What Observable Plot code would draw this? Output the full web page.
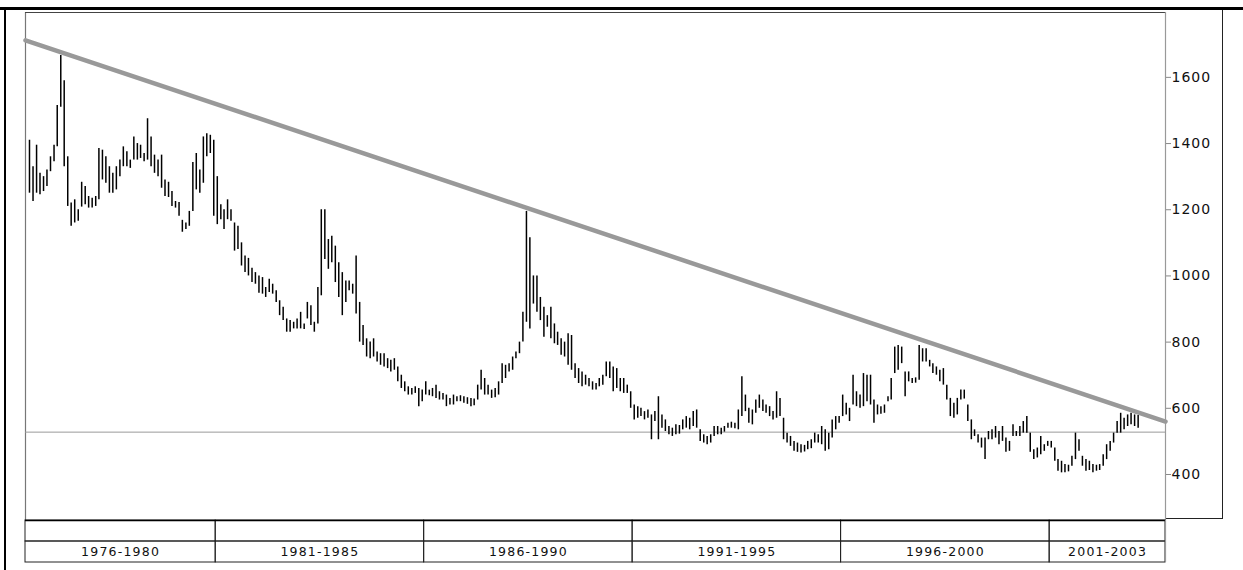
<!DOCTYPE html>
<html><head><meta charset="utf-8">
<script src="https://cdn.jsdelivr.net/npm/d3@7"></script>
<script src="https://cdn.jsdelivr.net/npm/@observablehq/plot@0.6"></script>
<style>
body{margin:0;background:#fff;font-family:"Liberation Sans",Arial,sans-serif;}
#wrap{position:relative;width:1243px;height:570px;overflow:hidden;background:#fff;}
#main{position:absolute;left:0;top:0;}
#foot{position:absolute;left:0;top:519px;}
.topline{position:absolute;left:0;top:7px;width:1243px;height:3px;background:#000;}
.leftline{position:absolute;left:4px;top:7px;width:2px;height:563px;background:#000;}
.rightbox{position:absolute;left:1165px;top:10px;width:57px;height:508px;border-right:1px solid #222;border-bottom:1px solid #222;}
svg [aria-label="y-axis tick"]{stroke:#888;}
svg [aria-label="y-axis tick label"] text{letter-spacing:1px;}
svg .foot-label text, svg [aria-label="text"] text{letter-spacing:1.2px;}
</style></head><body>
<div id="wrap">
<div class="topline"></div><div class="leftline"></div><div class="rightbox"></div>
<div id="main"></div><div id="foot"></div>
</div>
<script>
// ---- data (monthly bars, first bar = July 1976) ----
const firstYear = 1976, firstMonth = 6; // 0-based month index (July)
const highs = [
1410,1330,1395,1310,1300,1320,
1360,1395,1515,1666,1590,1360,1220,1230,1200,1283,1270,1240,
1235,1240,1385,1380,1360,1330,1310,1330,1350,1390,1375,1350,
1420,1400,1395,1370,1475,1420,1365,1350,1365,1290,1283,1255,
1225,1222,1168,1160,1195,1343,1370,1320,1420,1430,1425,1410,
1300,1215,1200,1230,1200,1160,1150,1100,1060,1053,1023,1010,
1000,995,965,990,975,955,925,905,870,865,860,870,
890,855,920,910,860,965,1200,1200,1110,1120,1090,1040,
1010,985,985,975,1060,920,850,810,800,810,770,765,
765,750,745,750,725,700,680,665,660,665,660,655,
680,655,660,670,650,645,640,630,640,635,638,635,
632,630,628,670,715,690,670,655,660,680,735,730,
735,755,770,800,890,1195,1115,1000,1000,935,905,880,
905,855,830,810,800,825,820,735,720,710,700,690,
680,675,690,700,740,740,725,720,690,690,670,650,
610,605,600,590,595,580,590,635,580,565,545,540,
550,548,565,575,570,590,595,535,520,515,520,545,
545,540,545,555,558,555,595,695,640,600,595,625,
640,625,610,605,590,650,630,570,525,515,500,495,
490,488,500,505,525,520,545,535,525,565,575,575,
640,615,600,700,650,640,705,700,700,625,610,605,
610,635,690,785,790,785,710,710,690,692,790,780,
780,745,735,725,715,720,670,630,615,630,655,655,
610,565,535,520,510,510,530,535,545,530,545,510,
500,550,530,545,560,575,525,475,480,515,490,500,
500,480,445,440,430,428,455,525,505,455,445,440,
430,428,430,460,490,500,525,560,585,570,580,585,
580,578];
const lows = [
1250,1225,1250,1245,1255,1270,
1315,1345,1390,1510,1330,1210,1150,1160,1165,1208,1215,1205,
1205,1210,1230,1290,1280,1250,1250,1260,1300,1330,1330,1325,
1350,1350,1355,1345,1350,1330,1310,1300,1265,1240,1237,1210,
1205,1180,1132,1140,1150,1195,1260,1250,1280,1360,1370,1180,
1155,1170,1140,1170,1165,1075,1080,1030,1010,1000,980,975,
948,945,935,950,945,920,880,865,830,830,840,840,
840,838,870,850,830,855,940,1050,1020,1040,980,935,
880,920,955,945,885,800,790,755,750,755,740,730,
725,720,710,715,680,660,650,640,640,645,605,620,
640,638,635,630,625,625,605,610,610,620,620,615,
612,605,608,625,655,640,640,630,632,640,675,690,
710,715,750,765,800,860,840,915,890,865,815,845,
810,795,790,760,755,730,715,690,675,665,670,665,
655,655,665,670,695,690,650,660,650,645,645,600,
565,570,575,565,570,505,560,505,540,530,520,515,
520,522,535,540,535,545,540,500,495,490,495,515,
520,520,528,540,540,538,535,575,590,555,550,585,
600,590,585,575,565,570,575,505,495,485,470,467,
465,468,475,478,495,495,490,470,475,510,535,555,
575,580,560,610,605,600,605,620,610,555,580,582,
585,620,625,705,715,735,635,680,675,676,685,740,
740,725,705,700,680,670,625,575,570,580,625,628,
560,505,515,495,480,445,505,505,510,490,500,467,
470,515,515,515,525,525,467,445,450,460,470,485,
480,440,410,405,405,408,425,445,470,425,410,412,
405,410,412,425,445,470,495,525,525,535,545,550,
545,540];
const yTicks = [400,600,800,1000,1200,1400,1600];
const supportLevel = 528;
const trendYears = [1976.44, 2003.78];
const trendValues = [1712, 560];
const periodLabels = ["1976-1980","1981-1985","1986-1990","1991-1995","1996-2000","2001-2003"];
const periodStarts = [1976.44,1981,1986,1991,1996,2001];
const periodEnds   = [1981,1986,1991,1996,2001,2003.78];
const xDomainYears = [1976.44, 2003.78];
const yDomain = [261, 1796];

// ---- helpers ----
const yearToDate = y => { const Y = Math.floor(y); const a = Date.UTC(Y,0,1), b = Date.UTC(Y+1,0,1); return new Date(a + (y-Y)*(b-a)); };
const bars = highs.map((h,i) => ({date:new Date(Date.UTC(firstYear, firstMonth+i, 15)), high:h, low:lows[i]}));
const trend = trendYears.map((t,i) => ({date:yearToDate(t), value:trendValues[i]}));
const periods = periodLabels.map((l,i) => ({label:l, x1:yearToDate(periodStarts[i]), x2:yearToDate(periodEnds[i]), mid:yearToDate((periodStarts[i]+periodEnds[i])/2)}));
const xDomain = xDomainYears.map(yearToDate);

const W = 1243, ML = 25, MR = 78;

const main = Plot.plot({
  width: W, height: 520,
  marginTop: 12, marginBottom: 0, marginLeft: ML, marginRight: MR,
  style: {fontFamily: '"DejaVu Sans", "Liberation Sans", sans-serif', background: "transparent", overflow: "visible"},
  x: {type: "utc", domain: xDomain, axis: null},
  y: {domain: yDomain, axis: null},
  marks: [
    Plot.ruleX([xDomain[0]], {stroke: "#777", strokeWidth: 1.2}),
    Plot.ruleY([yDomain[1]], {stroke: "#444", strokeWidth: 1}),
    Plot.ruleY([supportLevel], {stroke: "#9a9a9a", strokeWidth: 1}),
    Plot.ruleX(bars, {x: "date", y1: "low", y2: "high", stroke: "#000", strokeWidth: 1.5}),
    Plot.line(trend, {x: "date", y: "value", stroke: "#999", strokeWidth: 4.5}),
    Plot.ruleX([xDomain[1]], {stroke: "#999", strokeWidth: 1.2}),
    Plot.axisY(yTicks, {anchor: "right", tickSize: 5, tickPadding: 1, fontSize: 14, color: "#111", tickFormat: d => String(d)})
  ]
});
document.getElementById("main").appendChild(main);

const foot = Plot.plot({
  width: W, height: 44,
  marginTop: 1, marginBottom: 1, marginLeft: ML, marginRight: MR,
  style: {fontFamily: '"DejaVu Sans", "Liberation Sans", sans-serif', background: "transparent", overflow: "visible"},
  x: {type: "utc", domain: xDomain, axis: null},
  y: {domain: [0, 2], axis: null, reverse: true},
  marks: [
    Plot.rect(periods, {x1: "x1", x2: "x2", y1: 0, y2: 1, fill: "none", stroke: "#222", strokeWidth: 1}),
    Plot.rect(periods, {x1: "x1", x2: "x2", y1: 1, y2: 2, fill: "none", stroke: "#222", strokeWidth: 1}),
    Plot.text(periods, {x: "mid", y: 1.5, text: "label", fontSize: 12.5, fill: "#111"}),
    Plot.ruleY([0], {stroke: "#000", strokeWidth: 1.5}),
    Plot.ruleX([xDomain[1]], {stroke: "#999", strokeWidth: 1.2})
  ]
});
document.getElementById("foot").appendChild(foot);
</script>
</body></html>
